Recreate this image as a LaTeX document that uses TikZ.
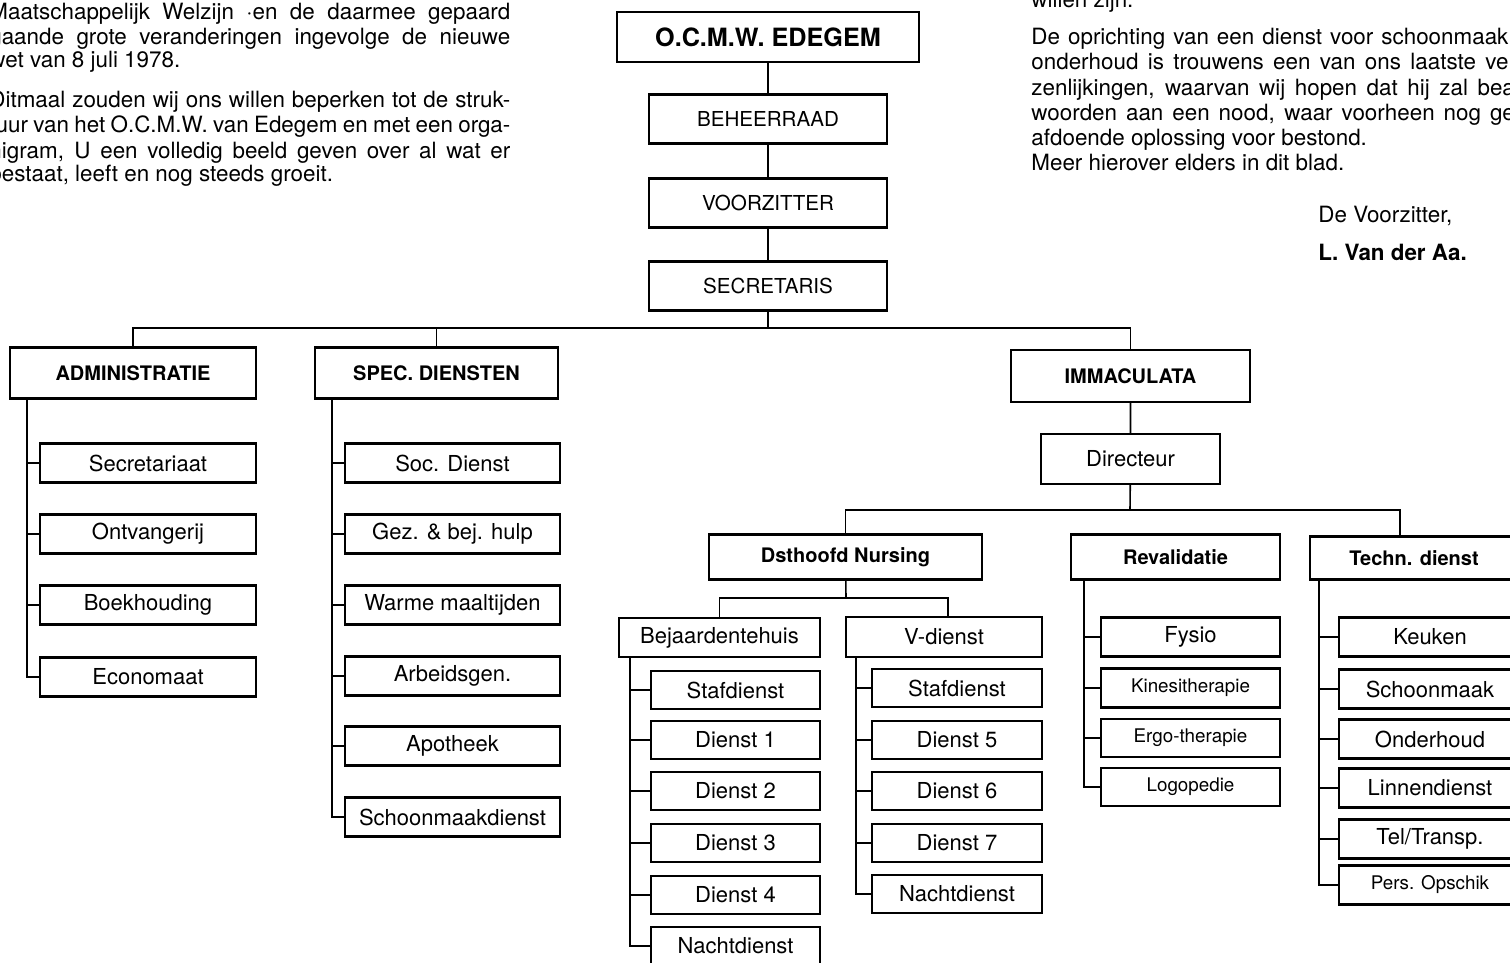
\documentclass[tikz,border=0pt]{standalone}
\usepackage{fontspec}
\setmainfont{TeX Gyre Heros}

\newcommand{\jline}[2][260.5pt]{\makebox[#1][s]{#2}}
\newcommand{\parafont}{\fontsize{11.2}{13}\selectfont}
\newcommand{\itemfont}{\fontsize{11}{13}\selectfont}
\newcommand{\capsfont}{\fontsize{10.3}{12}\selectfont}
\newcommand{\headfont}{\bfseries\fontsize{10}{12}\selectfont}
\newcommand{\titlefont}{\bfseries\fontsize{12.6}{15}\selectfont}
\newcommand{\smallfont}{\fontsize{9.4}{11}\selectfont}

\begin{document}
\begin{tikzpicture}[
                      x = 0.5pt,
                      y = -0.5pt,
              line/.style = {draw, line width=0.8pt},
               box/.style = {draw, line width=1.1pt, inner sep=0pt, font=\itemfont},
              capsbox/.style = {box, font=\capsfont},
              headbox/.style = {box, font=\headfont},
             smallbox/.style = {box, font=\smallfont},
          dim/.style 2 args = {minimum width=#1*0.5pt, minimum height=#2*0.5pt},
              para/.style = {anchor=base west, inner sep=0pt, font=\parafont},
                     ]
\useasboundingbox (0,0) rectangle (1510,963);
\clip (0,0) rectangle (1510,963);

% text of the page
\node[para] (l1) at (-11,20)  {\jline{Maatschappelijk Welzijn ·en de daarmee gepaard}};
\node[para] (l2) at (-11,45)  {\jline{gaande grote veranderingen ingevolge de nieuwe}};
\node[para] (l3) at (-11,68)  {wet van 8 juli 1978.};
\node[para] (l4) at (-11,108) {\jline{Ditmaal zouden wij ons willen beperken tot de struk-}};
\node[para] (l5) at (-11,133) {\jline{tuur van het O.C.M.W. van Edegem en met een orga-}};
\node[para] (l6) at (-11,158) {\jline{nigram, U een volledig beeld geven over al wat er}};
\node[para] (l7) at (-11,182) {bestaat, leeft en nog steeds groeit.};

\node[para] (r0) at (1031,8)   {willen zijn.};
\node[para] (r1) at (1031,45)  {\jline[255pt]{De oprichting van een dienst voor schoonmaak en}};
\node[para] (r2) at (1031,70)  {\jline[245.5pt]{onderhoud is trouwens een van ons laatste ver-}};
\node[para] (r3) at (1031,96)  {\jline[245.5pt]{zenlijkingen, waarvan wij hopen dat hij zal bea-}};
\node[para] (r4) at (1031,121) {\jline[245.5pt]{woorden aan een nood, waar voorheen nog ge-}};
\node[para] (r5) at (1031,146) {afdoende oplossing voor bestond.};
\node[para] (r6) at (1031,170) {Meer hierover elders in dit blad.};
\node[para] (sign1) at (1318,222) {De Voorzitter,};
\node[para, font=\parafont\bfseries] (sign2) at (1318,260) {L. Van der Aa.};

% top column
\node[box, font=\titlefont, dim={302}{50}] (ocmw)   at (768,37)  {O.C.M.W. EDEGEM};
\node[capsbox, dim={238}{49}]             (beheer) at (768,119) {BEHEERRAAD};
\node[capsbox, dim={238}{49}]             (voorz)  at (768,203) {VOORZITTER};
\node[capsbox, dim={238}{49}]             (secret) at (768,286) {SECRETARIS};

% second level
\node[headbox, dim={246}{51}] (adm)  at (133,373)    {ADMINISTRATIE};
\node[headbox, dim={243}{51}] (spec) at (436.5,373)  {SPEC. DIENSTEN};
\node[headbox, dim={239}{52}] (imm)  at (1130.5,376) {IMMACULATA};

% administratie
\node[box, dim={216}{39}] (sectr) at (148,463) {Secretariaat};
\node[box, dim={216}{39}] (ontv)  at (148,534) {Ontvangerij};
\node[box, dim={216}{39}] (boekh) at (148,605) {Boekhouding};
\node[box, dim={216}{39}] (econ)  at (148,677) {Economaat};

% spec. diensten
\node[box, dim={215}{39}] (socd)  at (452.5,463) {Soc. Dienst};
\node[box, dim={215}{39}] (gezb)  at (452.5,534) {Gez. \& bej. hulp};
\node[box, dim={215}{39}] (warm)  at (452.5,605) {Warme maaltijden};
\node[box, dim={215}{39}] (arbg)  at (452.5,676) {Arbeidsgen.};
\node[box, dim={215}{39}] (apoth) at (452.5,746) {Apotheek};
\node[box, dim={215}{39}] (schmd) at (452.5,817) {Schoonmaakdienst};

% immaculata
\node[box, dim={179}{50}]     (dir)   at (1130.5,459) {Directeur};
\node[headbox, dim={273}{45}] (nurs)  at (845.5,557)  {Dsthoofd Nursing};
\node[headbox, dim={209}{45}] (reval) at (1175.5,557) {Revalidatie};
\node[headbox, dim={208}{43}] (techn) at (1414,558)   {Techn. dienst};

\node[box, dim={201}{39}] (bejh) at (719.5,637.5) {Bejaardentehuis};
\node[box, dim={196}{40}] (vdst) at (944,637)     {V-dienst};

\node[box, dim={169}{38}] (bstaf)  at (735.5,690) {Stafdienst};
\node[box, dim={169}{38}] (bd1)    at (735.5,740) {Dienst 1};
\node[box, dim={169}{38}] (bd2)    at (735.5,791) {Dienst 2};
\node[box, dim={169}{38}] (bd3)    at (735.5,843) {Dienst 3};
\node[box, dim={169}{38}] (bd4)    at (735.5,895) {Dienst 4};
\node[box, dim={169}{38}] (bnacht) at (735.5,946) {Nachtdienst};

\node[box, dim={170}{38}] (vstaf)  at (957,688) {Stafdienst};
\node[box, dim={170}{38}] (vd5)    at (957,740) {Dienst 5};
\node[box, dim={170}{38}] (vd6)    at (957,791) {Dienst 6};
\node[box, dim={170}{38}] (vd7)    at (957,843) {Dienst 7};
\node[box, dim={170}{38}] (vnacht) at (957,894) {Nachtdienst};

\node[box, dim={179}{39}]      (fysio) at (1190.5,637) {Fysio};
\node[smallbox, dim={179}{39}] (kine)  at (1190.5,688) {Kinesitherapie};
\node[smallbox, dim={179}{38}] (ergo)  at (1190.5,738) {Ergo-therapie};
\node[smallbox, dim={179}{38}] (logo)  at (1190.5,787) {Logopedie};

\node[box, dim={182}{39}]      (keuk)   at (1430,637) {Keuken};
\node[box, dim={182}{39}]      (schoon) at (1430,689) {Schoonmaak};
\node[box, dim={182}{39}]      (onderh) at (1430,739) {Onderhoud};
\node[box, dim={182}{39}]      (linnen) at (1430,788) {Linnendienst};
\node[box, dim={182}{39}]      (telt)   at (1430,839) {Tel/Transp.};
\node[smallbox, dim={182}{39}] (pers)   at (1430,885) {Pers. Opschik};

% connectors
\coordinate (topbus) at (768,328);
\draw[line] (ocmw) -- (beheer) -- (voorz) -- (secret) -- (topbus);
\draw[line] (adm.north) |- (topbus) -| (imm.north);
\draw[line] (spec.north) -- (spec.north |- topbus);

\coordinate (admrail) at ([xshift=9pt]adm.south west);
\draw[line] (admrail) |- (econ.west);
\draw[line] (sectr.west) -- (sectr.west -| admrail);
\draw[line] (ontv.west) -- (ontv.west -| admrail);
\draw[line] (boekh.west) -- (boekh.west -| admrail);

\coordinate (specrail) at ([xshift=9pt]spec.south west);
\draw[line] (specrail) |- (schmd.west);
\draw[line] (socd.west) -- (socd.west -| specrail);
\draw[line] (gezb.west) -- (gezb.west -| specrail);
\draw[line] (warm.west) -- (warm.west -| specrail);
\draw[line] (arbg.west) -- (arbg.west -| specrail);
\draw[line] (apoth.west) -- (apoth.west -| specrail);

\coordinate (dirbus) at (1130,510);
\draw[line] (imm) -- (dir) -- (dirbus);
\draw[line] (nurs.north) |- (dirbus) -| ([xshift=-7pt]techn.north);

\coordinate (nursbus) at (846,598);
\draw[line] (nurs) -- (nursbus);
\draw[line] (bejh.north) |- (nursbus) -| ([xshift=2pt]vdst.north);

\coordinate (bejrail) at ([xshift=6pt]bejh.south west);
\draw[line] (bejrail) |- (bnacht.west);
\draw[line] (bstaf.west) -- (bstaf.west -| bejrail);
\draw[line] (bd1.west) -- (bd1.west -| bejrail);
\draw[line] (bd2.west) -- (bd2.west -| bejrail);
\draw[line] (bd3.west) -- (bd3.west -| bejrail);
\draw[line] (bd4.west) -- (bd4.west -| bejrail);

\coordinate (vrail) at ([xshift=5.5pt]vdst.south west);
\draw[line] (vrail) |- (vnacht.west);
\draw[line] (vstaf.west) -- (vstaf.west -| vrail);
\draw[line] (vd5.west) -- (vd5.west -| vrail);
\draw[line] (vd6.west) -- (vd6.west -| vrail);
\draw[line] (vd7.west) -- (vd7.west -| vrail);

\coordinate (revrail) at ([xshift=7pt]reval.south west);
\draw[line] (revrail) |- (logo.west);
\draw[line] (fysio.west) -- (fysio.west -| revrail);
\draw[line] (kine.west) -- (kine.west -| revrail);
\draw[line] (ergo.west) -- (ergo.west -| revrail);

\coordinate (techrail) at ([xshift=5pt]techn.south west);
\draw[line] (techrail) |- (pers.west);
\draw[line] (keuk.west) -- (keuk.west -| techrail);
\draw[line] (schoon.west) -- (schoon.west -| techrail);
\draw[line] (onderh.west) -- (onderh.west -| techrail);
\draw[line] (linnen.west) -- (linnen.west -| techrail);
\draw[line] (telt.west) -- (telt.west -| techrail);
\end{tikzpicture}
\end{document}
